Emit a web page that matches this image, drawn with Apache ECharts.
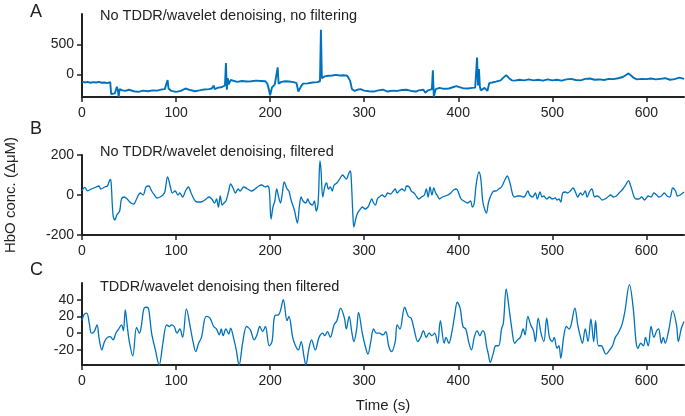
<!DOCTYPE html>
<html>
<head>
<meta charset="utf-8">
<script src="https://cdn.jsdelivr.net/npm/echarts@6/dist/echarts.min.js"></script>
<style>html,body{margin:0;padding:0;background:#fff}#c{width:685px;height:416px}</style>
</head>
<body>
<div id="c"></div>
<script>
const xTicks = [0, 100, 200, 300, 400, 500, 600];
const yTicksA = [0, 500];
const yTicksB = [-200, 0, 200];
const yTicksC = [-20, 0, 20, 40];
const titles = ['No TDDR/wavelet denoising, no filtering', 'No TDDR/wavelet denoising, filtered', 'TDDR/wavelet denoising then filtered'];
const letters = ['A', 'B', 'C'];

// Panel A: time (s), HbO (raw)
const panelA = [[0,-115],[3,-130],[6,-120],[9,-135],[12,-125],[15,-130],[18,-120],[21,-135],[24,-130],[27,-140],[30,-125],[31,-320],[33,-330],[35,-310],[37,-200],[38,-250],[39,-370],[40,-240],[43,-260],[46,-270],[50,-250],[55,-275],[60,-285],[65,-265],[70,-275],[75,-260],[80,-265],[85,-245],[88,-240],[90,-230],[91,-90],[92,-230],[95,-270],[100,-285],[105,-270],[110,-230],[115,-255],[120,-275],[125,-260],[130,-245],[135,-240],[138,-230],[140,-180],[141,-240],[142,-220],[145,-215],[148,-210],[150,-200],[152,-180],[153,190],[154,-250],[155,-60],[156,-160],[158,-90],[160,-110],[165,-120],[170,-105],[175,-115],[180,-110],[185,-100],[190,-105],[195,-110],[197,-150],[198,-200],[200,-340],[202,-210],[205,-160],[207,-130],[208,120],[209,-150],[212,-120],[216,-110],[220,-115],[225,-125],[228,-140],[230,-280],[231,-300],[233,-190],[235,-150],[240,-145],[245,-130],[250,-125],[252,-120],[253,-110],[254,740],[255,-60],[258,-30],[262,-20],[266,-15],[270,-5],[274,-15],[278,-10],[282,-20],[284,-30],[285,-100],[287,-240],[290,-270],[293,-250],[296,-240],[300,-265],[305,-275],[310,-280],[315,-260],[320,-250],[325,-280],[330,-265],[335,-270],[340,-255],[345,-250],[350,-270],[355,-280],[358,-260],[360,-290],[363,-250],[365,-300],[368,-260],[370,-250],[372,-240],[373,70],[374,-370],[376,-240],[380,-220],[385,-235],[390,-230],[395,-205],[398,-190],[402,-210],[405,-225],[410,-230],[415,-220],[418,-215],[419,-230],[420,280],[421,-180],[422,90],[423,-200],[424,-260],[426,-230],[428,-220],[431,-270],[433,-140],[436,-130],[440,-115],[445,-95],[448,-50],[451,-10],[454,-60],[457,-95],[460,-100],[465,-85],[470,-95],[475,-80],[480,-95],[485,-85],[490,-100],[495,-80],[500,-95],[505,-85],[510,-100],[515,-80],[520,-70],[525,-90],[530,-95],[535,-70],[540,-65],[545,-85],[550,-80],[555,-90],[560,-70],[565,-75],[570,-60],[575,-40],[578,-10],[581,20],[584,-20],[587,-60],[590,-80],[595,-70],[600,-75],[605,-65],[610,-80],[615,-70],[620,-60],[625,-85],[630,-75],[635,-50],[640,-70]];

// Panel B: time (s), HbO filtered
const panelB = [[0,21],[3,38],[6,21],[10,30],[15,40],[18,45],[20,30],[24,40],[27,45],[30,78],[31,60],[33,-100],[35,-125],[37,-100],[40,-80],[42,-20],[45,-10],[48,-20],[52,-40],[55,-45],[58,-20],[62,10],[65,0],[68,40],[71,45],[74,20],[77,0],[80,-15],[83,-10],[86,0],[88,15],[91,90],[94,40],[96,10],[99,20],[102,0],[104,10],[107,-10],[110,20],[113,40],[116,10],[119,-20],[122,-35],[126,-35],[129,-30],[132,-20],[135,-10],[138,-20],[141,-40],[143,-20],[145,-60],[147,-5],[149,-50],[151,-40],[153,-30],[156,20],[158,55],[161,30],[163,10],[166,30],[168,20],[172,40],[176,30],[180,20],[184,30],[188,45],[191,50],[195,40],[197,45],[199,30],[201,-120],[203,-60],[205,-30],[207,30],[209,-10],[211,-40],[213,10],[215,65],[218,30],[220,20],[222,-20],[224,-50],[226,-80],[229,-140],[231,-60],[233,-10],[235,-30],[238,-40],[240,-20],[242,-40],[245,-50],[247,-30],[249,-80],[251,-40],[253,170],[254,130],[256,-10],[258,40],[260,60],[262,30],[264,40],[266,20],[268,50],[271,60],[274,80],[277,100],[279,90],[281,80],[283,100],[285,120],[286,100],[288,-100],[289,-160],[291,-120],[293,-90],[296,-70],[298,-60],[301,-70],[304,-60],[306,-40],[308,-20],[310,-40],[312,-50],[314,-20],[316,-10],[319,0],[322,-10],[325,10],[328,5],[331,20],[333,30],[335,10],[337,20],[340,30],[343,20],[345,45],[348,40],[350,20],[353,10],[356,-10],[358,-20],[361,-10],[364,0],[366,30],[368,-10],[370,40],[372,0],[374,35],[376,10],[378,-5],[380,-20],[383,-10],[386,-5],[389,0],[392,10],[395,25],[398,30],[400,15],[403,-20],[406,-30],[410,-40],[413,-30],[415,-60],[417,-40],[419,50],[422,115],[424,80],[426,-30],[428,-70],[430,-90],[432,-40],[434,-10],[436,10],[438,20],[440,20],[443,30],[446,40],[450,80],[452,95],[455,60],[458,0],[460,-10],[463,-5],[466,-5],[469,-10],[471,-5],[474,20],[476,0],[479,-10],[482,10],[484,-20],[487,15],[489,-10],[491,-5],[494,-20],[497,-10],[500,-20],[503,-15],[505,-25],[507,-20],[509,-35],[511,10],[514,15],[516,10],[519,20],[522,35],[525,10],[527,-10],[530,10],[532,0],[535,20],[537,-10],[540,20],[542,30],[545,-10],[547,-5],[550,-10],[553,-25],[556,-20],[559,-10],[562,0],[565,-10],[568,-5],[571,10],[575,30],[578,50],[581,72],[583,50],[585,20],[587,-10],[589,-20],[592,-20],[595,-10],[598,-25],[600,-15],[602,-5],[605,-10],[608,10],[611,0],[613,-10],[616,-5],[619,10],[622,-5],[625,-10],[628,35],[631,20],[633,-5],[636,0],[640,15]];

// Panel C: time (s), HbO after TDDR/wavelet + filter
const panelC = [[0,15],[2,22],[5,24],[8,10],[10,0],[13,2],[16,10],[18,-5],[21,-20],[24,-10],[27,-5],[30,-4],[33,-8],[36,0],[39,5],[42,10],[44,3],[46,28],[48,10],[50,-8],[54,-27],[58,7],[61,0],[63,8],[66,30],[69,31],[71,28],[74,0],[78,-20],[82,-38],[86,-12],[90,10],[93,8],[95,10],[98,8],[101,0],[104,5],[107,-5],[111,29],[115,8],[118,-10],[121,-22],[124,-12],[127,-5],[132,20],[136,18],[140,8],[143,5],[146,-2],[148,5],[150,-3],[153,5],[156,-1],[158,6],[161,-5],[164,-20],[167,-38],[171,-10],[175,8],[179,4],[183,-8],[186,-2],[189,8],[192,2],[195,8],[199,-15],[202,-10],[205,21],[209,22],[211,27],[214,40],[218,15],[220,20],[224,-5],[227,-15],[230,-20],[233,-10],[236,-28],[238,-38],[241,-20],[244,-8],[248,-20],[252,-5],[256,0],[258,-3],[261,2],[264,-5],[268,10],[271,15],[275,30],[279,18],[281,5],[284,20],[287,0],[289,-10],[292,5],[294,25],[298,0],[301,-15],[304,-25],[307,-10],[310,5],[313,0],[316,0],[320,-2],[323,2],[326,-15],[329,-22],[333,-10],[335,10],[338,5],[343,31],[347,20],[350,18],[353,5],[357,-10],[360,-5],[363,3],[366,-5],[369,0],[372,-3],[375,0],[378,-12],[381,15],[385,-12],[387,-5],[390,-12],[393,0],[396,20],[399,37],[402,30],[405,8],[408,5],[411,-10],[414,-20],[417,-5],[420,3],[423,-3],[426,3],[428,0],[430,-15],[432,-25],[434,-35],[437,-25],[440,-15],[443,-15],[446,5],[448,12],[451,53],[454,30],[457,5],[460,-12],[463,-8],[466,-5],[469,5],[471,-2],[474,20],[477,10],[480,3],[482,-10],[485,18],[488,0],[491,-10],[494,18],[497,-5],[500,-10],[502,-5],[505,-18],[507,-15],[509,-30],[512,-5],[515,8],[518,5],[520,10],[524,30],[527,10],[530,-5],[532,-12],[535,5],[538,-10],[541,17],[544,-10],[546,15],[549,-15],[552,-15],[557,-25],[561,-20],[564,-15],[567,-5],[570,0],[574,10],[577,25],[582,58],[586,30],[589,-10],[591,-18],[594,-12],[597,-15],[599,-5],[602,-15],[605,8],[608,-5],[611,3],[613,5],[616,-12],[618,-5],[620,-12],[624,5],[628,27],[632,10],[634,-10],[637,5],[640,14]];

const FONT = '"Liberation Sans", Arial, Helvetica, sans-serif';
const INK = '#222';
const BLUE = '#0072BD';

const grids = [
  {left: 82, top: 14, width: 602, height: 83},
  {left: 82, top: 155, width: 602, height: 80},
  {left: 82, top: 283, width: 602, height: 82}
];
const yRanges = [[-370, 1000], [-200, 200], [-38, 60]];
const yTicks = [yTicksA, yTicksB, yTicksC];
const datasets = [panelA, panelB, panelC];

function xAxis(i) {
  const ax = {
    type: 'value', gridIndex: i, min: 0, max: 640,
    axisLine: {show: true, onZero: false, lineStyle: {color: INK, width: 2}},
    axisTick: {show: true, length: 5, customValues: xTicks, lineStyle: {color: INK, width: 1.5}},
    axisLabel: {customValues: xTicks, fontSize: 14, color: INK, margin: 9, fontFamily: FONT},
    splitLine: {show: false}
  };
  if (i === 2) {
    ax.name = 'Time (s)';
    ax.nameLocation = 'middle';
    ax.nameGap = 33;
    ax.nameTextStyle = {fontSize: 15, color: INK, fontFamily: FONT};
  }
  return ax;
}
function yAxis(i) {
  return {
    type: 'value', gridIndex: i, min: yRanges[i][0], max: yRanges[i][1],
    axisLine: {show: true, onZero: false, lineStyle: {color: INK, width: 2}},
    axisTick: {show: true, length: 5, customValues: yTicks[i], lineStyle: {color: INK, width: 1.5}},
    axisLabel: {customValues: yTicks[i], fontSize: 14, color: INK, margin: 8, fontFamily: FONT},
    splitLine: {show: false}
  };
}

const titleY = [16, 152, 287];
const letterY = [12, 129, 270];
const graphic = [];
for (let i = 0; i < 3; i++) {
  graphic.push({type: 'text', left: 100, top: titleY[i] - 8,
    style: {text: titles[i], fontSize: 14.5, fill: INK, fontFamily: FONT}});
  graphic.push({type: 'text', left: 30, top: letterY[i] - 9,
    style: {text: letters[i], fontSize: 18, fill: INK, fontFamily: FONT}});
}
graphic.push({type: 'text', x: 11, y: 195, rotation: Math.PI / 2,
  style: {text: 'HbO conc. (ΔμM)', fontSize: 15, fill: INK, fontFamily: FONT, align: 'center', verticalAlign: 'middle'}});

const chart = echarts.init(document.getElementById('c'), null, {renderer: 'canvas'});
chart.setOption({
  animation: false,
  grid: grids,
  xAxis: [0, 1, 2].map(xAxis),
  yAxis: [0, 1, 2].map(yAxis),
  graphic: graphic,
  series: datasets.map((d, i) => ({
    type: 'line', xAxisIndex: i, yAxisIndex: i, data: d,
    showSymbol: false, smooth: i === 0 ? false : 0.35,
    lineStyle: {color: BLUE, width: i === 0 ? 1.9 : 1.3},
    clip: false
  }))
});
</script>
</body>
</html>
